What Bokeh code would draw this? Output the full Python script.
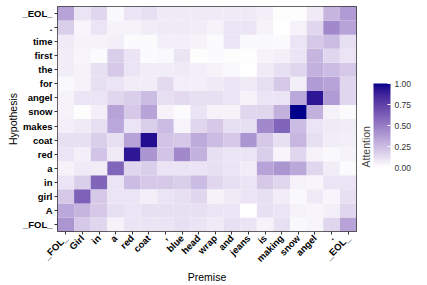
import numpy as np
from bokeh.plotting import figure
from bokeh.models import (ColumnDataSource, LinearColorMapper, ColorBar, FactorRange,
                          FixedTicker, NumeralTickFormatter)
from bokeh.embed import file_html
from bokeh.resources import INLINE

premise = ["_FOL_", "Girl", "in", "a", "red", "coat", ",", "blue", "head", "wrap",
           "and", "jeans", "is", "making", "snow", "angel", ".", "_EOL_"]
hypothesis = ["_FOL_", "A", "girl", "in", "a", "red", "coat", "makes", "snow",
              "angel", "for", "the", "first", "time", ".", "_EOL_"]

att_FOL = [0.40, 0.20, 0.15, 0.05, 0.10, 0.10, 0.10, 0.12, 0.10, 0.08, 0.12, 0.10, 0.05, 0.12, 0.03, 0.04, 0.15, 0.35]
att_A = [0.33, 0.28, 0.20, 0.12, 0.10, 0.12, 0.12, 0.12, 0.12, 0.10, 0.10, 0.00, 0.12, 0.10, 0.05, 0.04, 0.06, 0.15]
att_girl = [0.20, 0.62, 0.20, 0.10, 0.10, 0.06, 0.10, 0.12, 0.15, 0.05, 0.08, 0.10, 0.12, 0.07, 0.03, 0.08, 0.04, 0.12]
att_in = [0.10, 0.18, 0.60, 0.10, 0.25, 0.20, 0.20, 0.18, 0.25, 0.15, 0.12, 0.10, 0.20, 0.15, 0.05, 0.04, 0.10, 0.10]
att_a = [0.05, 0.08, 0.07, 0.60, 0.15, 0.18, 0.10, 0.10, 0.10, 0.12, 0.10, 0.07, 0.35, 0.40, 0.33, 0.15, 0.07, 0.02]
att_red = [0.10, 0.06, 0.22, 0.08, 0.92, 0.40, 0.22, 0.45, 0.30, 0.12, 0.10, 0.10, 0.18, 0.04, 0.15, 0.05, 0.03, 0.05]
att_coat = [0.12, 0.12, 0.18, 0.12, 0.35, 0.95, 0.22, 0.20, 0.32, 0.25, 0.20, 0.40, 0.20, 0.12, 0.27, 0.12, 0.07, 0.06]
att_makes = [0.06, 0.08, 0.12, 0.33, 0.10, 0.18, 0.25, 0.04, 0.15, 0.20, 0.12, 0.12, 0.45, 0.60, 0.25, 0.10, 0.08, 0.07]
att_snow = [0.05, 0.01, 0.06, 0.35, 0.20, 0.35, 0.05, 0.02, 0.10, 0.05, 0.05, 0.15, 0.15, 0.30, 1.00, 0.30, 0.05, 0.02]
att_angel = [0.05, 0.10, 0.10, 0.15, 0.18, 0.25, 0.12, 0.14, 0.12, 0.12, 0.10, 0.05, 0.10, 0.10, 0.33, 0.92, 0.38, 0.15]
att_for = [0.03, 0.05, 0.12, 0.10, 0.07, 0.07, 0.14, 0.06, 0.06, 0.08, 0.10, 0.08, 0.12, 0.20, 0.06, 0.38, 0.35, 0.15]
att_the = [0.07, 0.05, 0.12, 0.20, 0.10, 0.07, 0.07, 0.08, 0.06, 0.05, 0.03, 0.00, 0.08, 0.12, 0.15, 0.30, 0.25, 0.20]
att_first = [0.07, 0.04, 0.02, 0.18, 0.10, 0.02, 0.03, 0.10, 0.01, 0.02, 0.01, 0.01, 0.05, 0.06, 0.10, 0.28, 0.15, 0.10]
att_time = [0.08, 0.05, 0.05, 0.06, 0.02, 0.02, 0.06, 0.06, 0.05, 0.02, 0.10, 0.03, 0.03, 0.02, 0.10, 0.20, 0.25, 0.12]
att_dot = [0.18, 0.04, 0.10, 0.05, 0.05, 0.07, 0.08, 0.08, 0.07, 0.05, 0.10, 0.10, 0.05, 0.00, 0.05, 0.15, 0.45, 0.35]
att_EOL = [0.35, 0.10, 0.15, 0.03, 0.10, 0.12, 0.08, 0.08, 0.08, 0.08, 0.08, 0.08, 0.06, 0.01, 0.01, 0.08, 0.28, 0.38]

rows = [att_FOL, att_A, att_girl, att_in, att_a, att_red, att_coat, att_makes, att_snow,
        att_angel, att_for, att_the, att_first, att_time, att_dot, att_EOL]

cb_ticks = [0.0, 0.25, 0.5, 0.75, 1.0]
legend_title = "Attention"


def srgb_to_lab(rgb):
    c = np.array(rgb, dtype=float) / 255.0
    c = np.where(c <= 0.04045, c / 12.92, ((c + 0.055) / 1.055) ** 2.4)
    M = np.array([[0.4124, 0.3576, 0.1805], [0.2126, 0.7152, 0.0722], [0.0193, 0.1192, 0.9505]])
    t = (M @ c) / np.array([0.95047, 1.0, 1.08883])
    f = np.where(t > (6 / 29) ** 3, np.cbrt(t), t / (3 * (6 / 29) ** 2) + 4 / 29)
    return np.array([116 * f[1] - 16, 500 * (f[0] - f[1]), 200 * (f[1] - f[2])])


def lab_to_hex(lab):
    L, a, b = lab
    fy = (L + 16) / 116
    fx, fz = fy + a / 500, fy - b / 200
    finv = lambda f: f ** 3 if f > 6 / 29 else 3 * (6 / 29) ** 2 * (f - 4 / 29)
    xyz = np.array([finv(fx), finv(fy), finv(fz)]) * np.array([0.95047, 1.0, 1.08883])
    Mi = np.array([[3.2406, -1.5372, -0.4986], [-0.9689, 1.8758, 0.0415], [0.0557, -0.2040, 1.0570]])
    c = np.clip(Mi @ xyz, 0, 1)
    c = np.where(c <= 0.0031308, 12.92 * c, 1.055 * c ** (1 / 2.4) - 0.055)
    return "#%02x%02x%02x" % tuple(np.clip(np.round(c * 255), 0, 255).astype(int))


lo, hi = srgb_to_lab((255, 255, 255)), srgb_to_lab((0, 0, 139))
palette = [lab_to_hex(lo + (hi - lo) * t) for t in np.linspace(0, 1, 256)]

xs, ys, vs = [], [], []
for h, row in zip(hypothesis, rows):
    for p_tok, v in zip(premise, row):
        xs.append(p_tok); ys.append(h); vs.append(v)
src = ColumnDataSource(dict(x=xs, y=ys, v=vs))
mapper = LinearColorMapper(palette=palette, low=0, high=1)

FONT = "Liberation Sans"
p = figure(width=427, height=285, x_range=FactorRange(*premise), y_range=FactorRange(*hypothesis),
           output_backend="svg", toolbar_location=None,
           min_border_left=57, min_border_right=71, min_border_top=6, min_border_bottom=54)
p.rect(x="x", y="y", width=1, height=1, source=src,
       fill_color={"field": "v", "transform": mapper}, line_color=None)
p.outline_line_color = "#333333"
p.grid.visible = False
for ax in (p.xaxis, p.yaxis):
    ax.axis_line_color = None
    ax.major_tick_line_color = "#333333"
    ax.major_tick_out, ax.major_tick_in = 3, 0
    ax.minor_tick_line_color = None
    ax.major_label_text_font = FONT
    ax.major_label_text_font_style = "bold"
    ax.major_label_text_color = "black"
    ax.major_label_text_font_size = "9.5px"
    ax.major_label_standoff = 2
    ax.axis_label_text_font = FONT
    ax.axis_label_text_font_style = "normal"
    ax.axis_label_text_font_size = "10.5px"
    ax.axis_label_text_color = "black"
    ax.axis_label_standoff = 0
p.xaxis.axis_label = "Premise"
p.yaxis.axis_label = "Hypothesis"
p.xaxis.major_label_orientation = np.pi / 4

cb = ColorBar(color_mapper=mapper, width=17, height=84, location=(299, 64),
              ticker=FixedTicker(ticks=cb_ticks), formatter=NumeralTickFormatter(format="0.00"),
              title=legend_title, title_text_font=FONT, title_text_font_size="10.5px",
              title_text_font_style="normal", title_standoff=3,
              major_label_text_font=FONT, major_label_text_font_size="8.5px",
              major_label_text_color="#333333", major_tick_line_color="white",
              major_tick_in=3, major_tick_out=0, bar_line_color=None, border_line_color=None,
              background_fill_color=None, padding=0, margin=0, label_standoff=4)
p.add_layout(cb, "center")

open("out.html", "w").write(file_html(p, INLINE))
